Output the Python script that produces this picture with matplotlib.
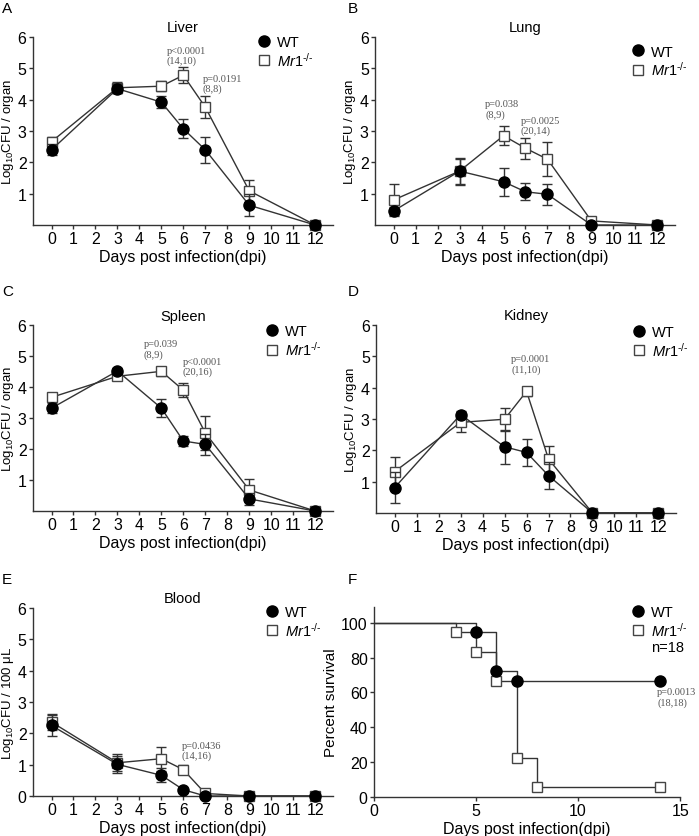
import matplotlib
matplotlib.use("Agg")
import matplotlib.pyplot as plt
from matplotlib.lines import Line2D

plt.rcParams['font.family'] = ['Liberation Sans', 'DejaVu Sans']
plt.rcParams['mathtext.fontset'] = 'custom'
plt.rcParams['mathtext.rm'] = 'Liberation Sans'
plt.rcParams['mathtext.it'] = 'Liberation Sans:italic'

days = [0, 3, 5, 6, 7, 9, 12]
day_ticks = list(range(13))

# liver
liver_wt = [2.40, 4.35, 3.92, 3.07, 2.40, 0.63, 0.0]
liver_wt_err = [0.18, 0.15, 0.20, 0.30, 0.42, 0.35, 0.0]
liver_ko = [2.66, 4.38, 4.43, 4.78, 3.76, 1.09, 0.0]
liver_ko_err = [0.15, 0.18, 0.15, 0.25, 0.35, 0.35, 0.0]

# lung
lung_wt = [0.45, 1.72, 1.38, 1.06, 0.98, 0.0, 0.0]
lung_wt_err = [0.12, 0.43, 0.45, 0.27, 0.33, 0.0, 0.0]
lung_ko = [0.80, 1.72, 2.85, 2.45, 2.10, 0.13, 0.0]
lung_ko_err = [0.50, 0.40, 0.30, 0.33, 0.55, 0.0, 0.0]

# spleen
spleen_wt = [3.32, 4.52, 3.32, 2.26, 2.15, 0.39, 0.0]
spleen_wt_err = [0.17, 0.10, 0.30, 0.17, 0.35, 0.20, 0.0]
spleen_ko = [3.67, 4.35, 4.51, 3.90, 2.52, 0.68, 0.0]
spleen_ko_err = [0.05, 0.10, 0.15, 0.22, 0.55, 0.35, 0.0]

# kidney
kidney_wt = [0.81, 3.14, 2.11, 1.93, 1.19, 0.0, 0.0]
kidney_wt_err = [0.50, 0.10, 0.55, 0.43, 0.42, 0.0, 0.0]
kidney_ko = [1.32, 2.89, 2.99, 3.88, 1.72, 0.0, 0.0]
kidney_ko_err = [0.45, 0.30, 0.37, 0.15, 0.42, 0.0, 0.0]

# blood
blood_wt = [2.25, 1.01, 0.66, 0.20, 0.0, 0.0, 0.0]
blood_wt_err = [0.35, 0.27, 0.22, 0.05, 0.0, 0.0, 0.0]
blood_ko = [2.36, 1.06, 1.19, 0.84, 0.08, 0.0, 0.0]
blood_ko_err = [0.25, 0.27, 0.38, 0.15, 0.0, 0.0, 0.0]

# survival
surv_wt_t = [0, 5, 6, 7, 14]
surv_wt = [100, 94.4, 72.2, 66.7, 66.7]
surv_ko_t = [0, 4, 5, 6, 7, 8, 14]
surv_ko = [100, 94.4, 83.3, 66.7, 22.2, 5.6, 5.6]

ko_label = r'$\mathit{Mr1}^{\mathit{\text{-/-}}}$'
LC = '#333333'
PC = '#555555'

fig = plt.figure(figsize=(6.99, 8.37), dpi=100)


def style(ax):
    for s in ['top', 'right']:
        ax.spines[s].set_visible(False)
    for s in ['left', 'bottom']:
        ax.spines[s].set_color(LC)
        ax.spines[s].set_linewidth(1)
    ax.tick_params(direction='out', length=3, width=1, color=LC, labelsize=11.5, pad=1.5)


def add_legend(ax, x, y, extra=None):
    h = [Line2D([], [], ls='none', marker='o', ms=8, mfc='black', mec='black'),
         Line2D([], [], ls='none', marker='s', ms=7, mfc='white', mec='#444444')]
    labels = ['WT', ko_label]
    if extra:
        h.append(Line2D([], [], ls='none'))
        labels.append(extra)
    ax.legend(h, labels, loc='upper left', bbox_to_anchor=(x, y), frameon=False,
              borderpad=0, borderaxespad=0, handlelength=1, handletextpad=0.4,
              labelspacing=0.1, fontsize=10.5)


def cfu_panel(rect, title, wt, wt_err, ko, ko_err, ylabel, pnotes, leg, zero_tick=False):
    ax = fig.add_axes(rect)
    style(ax)
    ax.errorbar(days, ko, yerr=ko_err, fmt='s-', color=LC, lw=1, elinewidth=1,
                capsize=3.5, ms=7, mfc='white', mec='#444444', mew=1, clip_on=False, zorder=3)
    ax.errorbar(days, wt, yerr=wt_err, fmt='o-', color=LC, lw=1, elinewidth=1,
                capsize=3.5, ms=8, mfc='black', mec='black', clip_on=False, zorder=4)
    ax.set_xlim(-0.85, 12.8)
    ax.set_ylim(0, 6)
    ax.set_xticks(day_ticks)
    ax.set_yticks(range(0 if zero_tick else 1, 7))
    ax.set_xlabel('Days post infection(dpi)', fontsize=11.5, labelpad=2)
    ax.set_ylabel(ylabel, fontsize=9.5, labelpad=1)
    ax.set_title(title, fontsize=10.5, pad=4)
    for (x, y, s) in pnotes:
        ax.text(x, y, s, ha='left', va='top', fontsize=7.5, color=PC,
                family='Liberation Serif', linespacing=1.15)
    add_legend(ax, *leg)
    return ax


ylab = r'Log$_{10}$CFU / organ'
cfu_panel([0.047, 0.730, 0.429, 0.2246], 'Liver', liver_wt, liver_wt_err, liver_ko, liver_ko_err, ylab,
          [(5.25, 5.72, 'p<0.0001\n(14,10)'), (6.88, 4.83, 'p=0.0191\n(8,8)')], (0.745, 1.01))
cfu_panel([0.5365, 0.730, 0.429, 0.2246], 'Lung', lung_wt, lung_wt_err, lung_ko, lung_ko_err, ylab,
          [(4.16, 4.02, 'p=0.038\n(8,9)'), (5.78, 3.49, 'p=0.0025\n(20,14)')], (0.852, 0.96))
cfu_panel([0.047, 0.3883, 0.429, 0.222], 'Spleen', spleen_wt, spleen_wt_err, spleen_ko, spleen_ko_err, ylab,
          [(4.2, 5.55, 'p=0.039\n(8,9)'), (5.97, 4.98, 'p<0.0001\n(20,16)')], (0.772, 1.005))
cfu_panel([0.538, 0.386, 0.429, 0.2246], 'Kidney', kidney_wt, kidney_wt_err, kidney_ko, kidney_ko_err, ylab,
          [(5.3, 5.07, 'p=0.0001\n(11,10)')], (0.852, 1.0))
cfu_panel([0.047, 0.0478, 0.429, 0.2246], 'Blood', blood_wt, blood_wt_err, blood_ko, blood_ko_err,
          r'Log$_{10}$CFU / 100 μL', [(5.92, 1.77, 'p=0.0436\n(14,16)')], (0.772, 1.015), zero_tick=True)

# survival panel
ax = fig.add_axes([0.535, 0.0466, 0.438, 0.227])
style(ax)
ax.step(surv_ko_t, surv_ko, where='post', color=LC, lw=1)
ax.step(surv_wt_t, surv_wt, where='post', color=LC, lw=1)
ax.plot(surv_ko_t[1:], surv_ko[1:], ls='none', marker='s', ms=7, mfc='white', mec='#444444', zorder=3)
ax.plot(surv_wt_t[1:], surv_wt[1:], ls='none', marker='o', ms=8, mfc='black', mec='black', zorder=4)
ax.set_xlim(0, 15)
ax.set_ylim(0, 109)
ax.set_xticks([0, 5, 10, 15])
ax.set_yticks([0, 20, 40, 60, 80, 100])
ax.set_xlabel('Days post infection(dpi)', fontsize=11.5, labelpad=2)
ax.set_ylabel('Percent survival', fontsize=11, labelpad=2)
ax.text(13.87, 63.2, 'p=0.0013\n(18,18)', ha='left', va='top', fontsize=7.5, color=PC,
        family='Liberation Serif', linespacing=1.15)
add_legend(ax, 0.838, 1.01, extra='n=18')

for (x, y, s) in [(0.003, 0.998, 'A'), (0.497, 0.998, 'B'), (0.003, 0.66, 'C'), (0.497, 0.66, 'D'),
                  (0.003, 0.315, 'E'), (0.497, 0.315, 'F')]:
    fig.text(x, y, s, ha='left', va='top', fontsize=11)

fig.savefig('out.png', dpi=100)
